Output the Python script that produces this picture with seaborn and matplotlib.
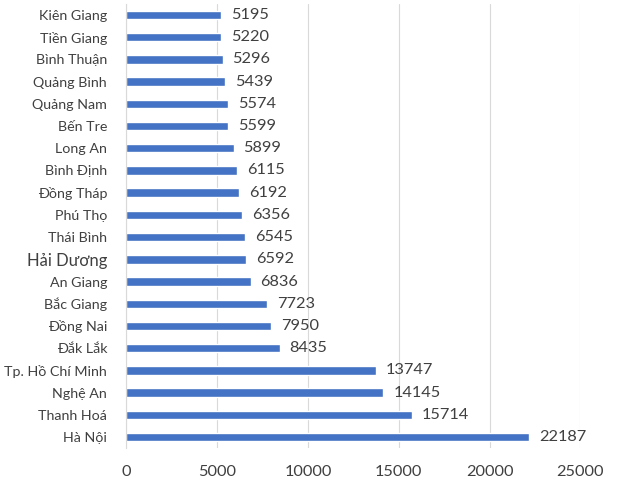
import matplotlib
matplotlib.use('Agg')
import matplotlib.pyplot as plt
import seaborn as sns
import pandas as pd

# Data
provinces = ['Kiên Giang', 'Tiền Giang', 'Bình Thuận', 'Quảng Bình', 'Quảng Nam',
             'Bến Tre', 'Long An', 'Bình Định', 'Đồng Tháp', 'Phú Thọ',
             'Thái Bình', 'Hải Dương', 'An Giang', 'Bắc Giang', 'Đồng Nai',
             'Đắk Lắk', 'Tp. Hồ Chí Minh', 'Nghệ An', 'Thanh Hoá', 'Hà Nội']
values = [5195, 5220, 5296, 5439, 5574,
          5599, 5899, 6115, 6192, 6356,
          6545, 6592, 6836, 7723, 7950,
          8435, 13747, 14145, 15714, 22187]
x_ticks = [0, 5000, 10000, 15000, 20000, 25000]

df = pd.DataFrame({'province': provinces, 'value': values})

sns.set_style('white')
plt.rcParams['font.family'] = ['Lato', 'DejaVu Sans']
text_color = '#404040'

fig, ax = plt.subplots(figsize=(6.2, 4.86), dpi=100)
fig.subplots_adjust(left=0.204, right=0.936, top=0.992, bottom=0.078)

sns.barplot(ax=ax, data=df, x='value', y='province', color='#4472C4',
            saturation=1, width=0.38, orient='h')

# Value labels
for i, v in enumerate(values):
    ax.text(v + 550, i, str(v), va='center', ha='left', fontsize=11.8, color=text_color)

ax.set_xlim(0, 25000)
ax.set_ylim(len(provinces) - 0.5, -0.5)
ax.set_xticks(x_ticks)
ax.set_xticklabels([str(t) for t in x_ticks])
ax.set_xlabel('')
ax.set_ylabel('')

# Grid
ax.grid(axis='x', color='#d9d9d9', linewidth=0.8)
ax.set_axisbelow(True)
for side in ['top', 'right', 'bottom']:
    ax.spines[side].set_visible(False)
ax.spines['left'].set_color('#d9d9d9')
ax.spines['left'].set_linewidth(0.8)

ax.tick_params(axis='x', length=0, pad=12, labelsize=11.8, colors=text_color)
ax.tick_params(axis='y', length=0, pad=14, labelsize=10.3, colors=text_color)

# Hải Dương label appears in a larger font in the original
for lbl in ax.get_yticklabels():
    if lbl.get_text() == 'Hải Dương':
        lbl.set_fontsize(12)

plt.savefig('out.png', dpi=100)
